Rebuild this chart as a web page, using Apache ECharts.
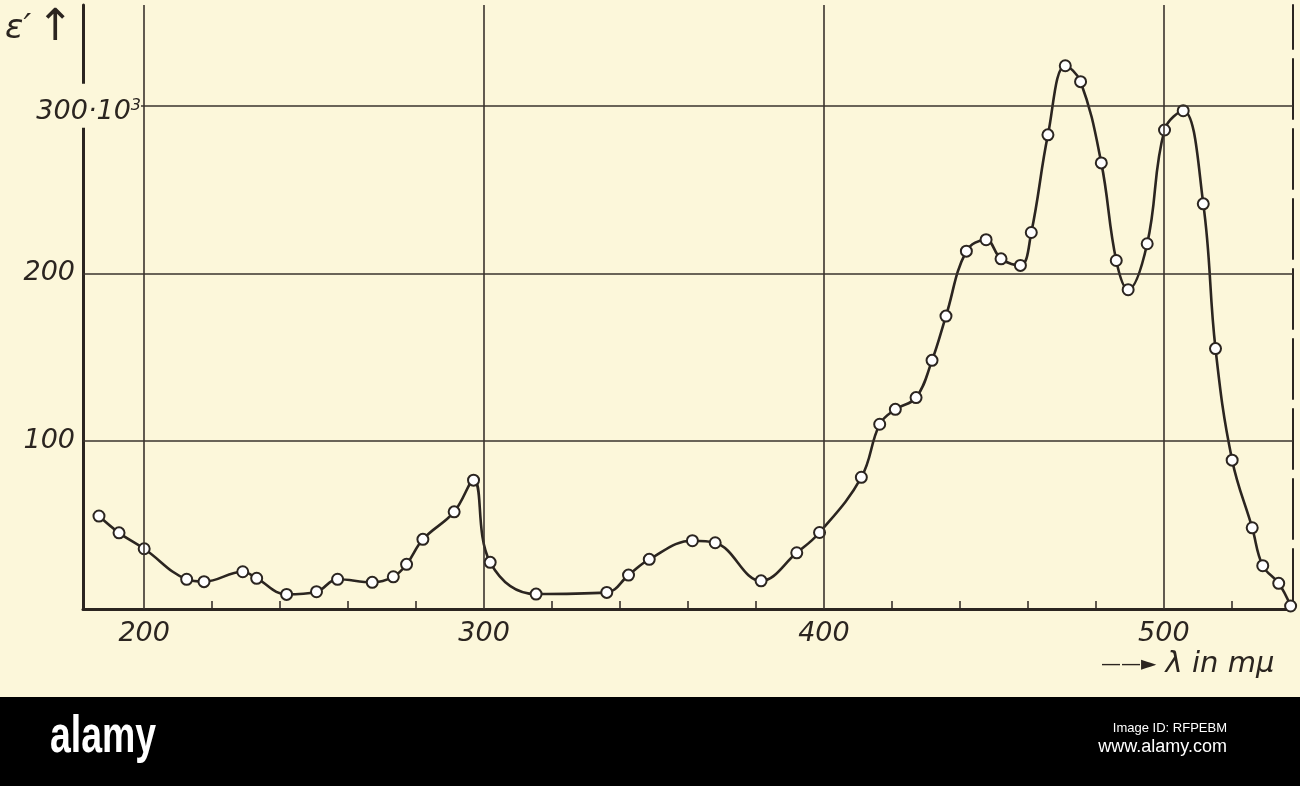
<!DOCTYPE html>
<html>
<head>
<meta charset="utf-8">
<script src="https://cdn.jsdelivr.net/npm/echarts@6/dist/echarts.min.js"></script>
<style>
  html, body { margin: 0; padding: 0; background: #fcf7da; }
  #chart { width: 1300px; height: 786px; }
</style>
</head>
<body>
<div id="chart"></div>
<script>
// wavelength (mμ) of the measured points
var lambda = [186.7, 192.6, 200, 212.5, 217.6, 229, 233.1, 241.9, 250.7, 256.9,
  267.1, 273.3, 277.2, 282, 291.2, 296.9, 301.8, 315.3, 336.1, 342.5,
  348.6, 361.3, 368, 381.5, 392, 398.7, 411, 416.4, 421, 427.1,
  431.8, 435.9, 441.9, 447.7, 452.1, 457.8, 461, 465.9, 471, 475.5,
  481.6, 486, 489.5, 495.1, 500.2, 505.7, 511.6, 515.2, 520.1, 526,
  529.1, 533.8, 537.3];
// epsilon' in units of 10^3
var eps = [55.4, 45.4, 35.9, 17.7, 16.3, 22.2, 18.3, 8.7, 10.3, 17.7,
  15.9, 19.2, 26.6, 41.5, 57.9, 76.8, 27.8, 8.9, 9.9, 20.2,
  29.6, 40.7, 39.5, 16.8, 33.5, 45.6, 78.5, 110.1, 119, 126,
  148.2, 174.6, 213.3, 220.1, 208.7, 204.8, 224.4, 282.6, 323.8, 314.3,
  265.9, 207.7, 190.3, 217.7, 285.5, 297, 241.5, 155.2, 88.7, 48.4,
  25.8, 15.3, 1.8];
var xLabels = [200, 300, 400, 500];
var xMinor = [220, 240, 260, 280, 320, 340, 360, 380, 420, 440, 460, 480, 520];
var yLabels = [100, 200];
var yTopLabel = [300];

var ink = '#2b2520';
var paper = '#fcf7da';
var numFont = { fontFamily: 'DejaVu Sans', fontStyle: 'italic', fontWeight: 'normal', fontSize: 27, color: ink };

var points = lambda.map(function (x, i) { return [x, eps[i]]; });

var chart = echarts.init(document.getElementById('chart'));

var option = {
  backgroundColor: paper,
  animation: false,
  title: [
    {
      text: '{e|ε′}{a|↑}',
      left: 0, top: 2,
      textStyle: {
        fontWeight: 'normal',
        rich: {
          e: { fontFamily: 'DejaVu Sans', fontStyle: 'italic', fontWeight: 'normal', fontSize: 34, color: ink },
          a: { fontFamily: 'DejaVu Sans', fontWeight: 'normal', fontSize: 44, color: ink, padding: [0, 0, 0, 6] }
        }
      }
    },
    {
      text: '{ar|——►}{l| λ in mμ}',
      left: 1096, top: 645,
      textStyle: {
        fontWeight: 'normal',
        rich: {
          ar: { fontFamily: 'DejaVu Sans', fontWeight: 'normal', fontSize: 20, color: ink },
          l: { fontFamily: 'DejaVu Sans', fontStyle: 'italic', fontWeight: 'normal', fontSize: 29, color: ink }
        }
      }
    }
  ],
  grid: { left: 83, right: 7, top: 5, bottom: 177 },
  xAxis: [
    {
      type: 'value', min: 182, max: 538, position: 'bottom',
      axisLine: { show: true, lineStyle: { color: ink, width: 3 } },
      axisTick: { show: true, inside: true, length: 8, customValues: xMinor, lineStyle: { color: ink, width: 1.5 } },
      axisLabel: Object.assign({ customValues: xLabels, margin: 11 }, numFont),
      splitLine: { show: false }
    },
    {
      type: 'value', min: 182, max: 538, position: 'top',
      axisLine: { show: true, lineStyle: { color: ink, width: 2 } },
      axisTick: { show: false }, axisLabel: { show: false }, splitLine: { show: false }
    }
  ],
  yAxis: [
    {
      type: 'value', min: 0, max: 360, position: 'left',
      axisLine: { show: true, lineStyle: { color: ink, width: 3 } },
      axisTick: { show: false },
      axisLabel: Object.assign({ customValues: yLabels, margin: 8, padding: [10, 0, 0, 0] }, numFont),
      splitLine: { show: false }
    },
    {
      type: 'value', min: 0, max: 360, position: 'left', z: 5,
      axisLine: { show: false }, axisTick: { show: false }, splitLine: { show: false },
      axisLabel: {
        customValues: yTopLabel,
        margin: -58,
        formatter: function (v) { return '{a|' + v + '·10}{b|3}'; },
        backgroundColor: paper,
        padding: [14, 0, 2, 0],
        rich: {
          a: numFont,
          b: { fontFamily: 'DejaVu Sans', fontStyle: 'italic', fontSize: 16, color: ink, padding: [0, 0, 12, 0] }
        }
      }
    },
    {
      type: 'value', min: 0, max: 360, position: 'right',
      axisLine: { show: true, lineStyle: { color: ink, width: 2, type: [60, 10] } },
      axisTick: { show: false }, axisLabel: { show: false }, splitLine: { show: false }
    }
  ],
  series: [
    {
      // grid lines
      type: 'line', data: [], z: 1, silent: true,
      markLine: {
        silent: true, symbol: 'none', animation: false,
        label: { show: false },
        lineStyle: { color: '#3a332d', width: 1.6, type: 'solid' },
        data: xLabels.map(function (v) { return { xAxis: v }; })
          .concat(yLabels.concat(yTopLabel).map(function (v) { return { yAxis: v }; }))
      }
    },
    {
      type: 'line', name: 'ε′', data: points, z: 3,
      smooth: 0.4, clip: false,
      symbol: 'emptyCircle', symbolSize: 11,
      lineStyle: { color: ink, width: 2.6 },
      itemStyle: { color: ink, borderWidth: 1.4, borderColor: ink }
    }
  ],
  graphic: [
    { type: 'rect', left: 0, top: 697, shape: { width: 1300, height: 89 }, style: { fill: '#000' }, z: 10 },
    { type: 'text', x: 50, y: 712, scaleX: 0.72, z: 11,
      style: { text: 'alamy', fill: '#fff', font: 'bold 52px "Liberation Sans", sans-serif' } },
    { type: 'text', right: 73, top: 722, z: 11,
      style: { text: 'Image ID: RFPEBM', fill: '#fff', font: '13px "Liberation Sans", sans-serif' } },
    { type: 'text', right: 73, top: 738, z: 11,
      style: { text: 'www.alamy.com', fill: '#fff', font: '18px "Liberation Sans", sans-serif' } }
  ]
};

chart.setOption(option);
</script>
</body>
</html>
